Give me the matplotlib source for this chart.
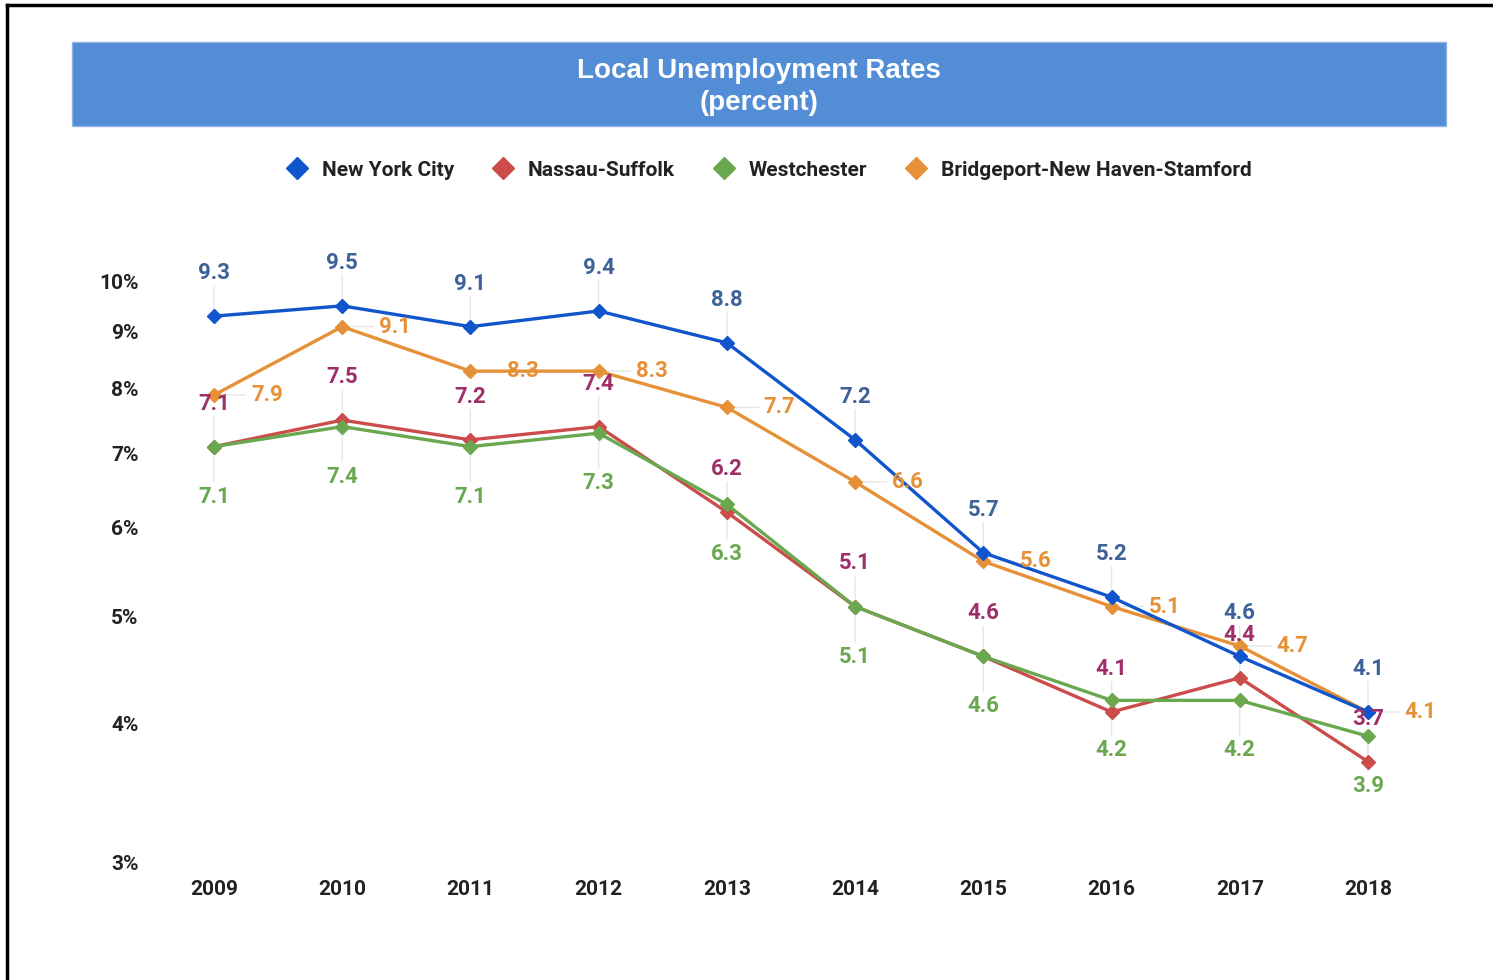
import matplotlib
matplotlib.use("Agg")
import matplotlib.pyplot as plt
from matplotlib.patches import Rectangle
from matplotlib.lines import Line2D
from matplotlib.ticker import FixedLocator, NullLocator, FixedFormatter

plt.rcParams['font.family'] = ['Roboto', 'DejaVu Sans']

years = [2009, 2010, 2011, 2012, 2013, 2014, 2015, 2016, 2017, 2018]
nyc = [9.3, 9.5, 9.1, 9.4, 8.8, 7.2, 5.7, 5.2, 4.6, 4.1]
nassau = [7.1, 7.5, 7.2, 7.4, 6.2, 5.1, 4.6, 4.1, 4.4, 3.7]
westchester = [7.1, 7.4, 7.1, 7.3, 6.3, 5.1, 4.6, 4.2, 4.2, 3.9]
bridgeport = [7.9, 9.1, 8.3, 8.3, 7.7, 6.6, 5.6, 5.1, 4.7, 4.1]
series_names = ["New York City", "Nassau-Suffolk", "Westchester", "Bridgeport-New Haven-Stamford"]
y_ticks = [3, 4, 5, 6, 7, 8, 9, 10]
y_tick_labels = ["3%", "4%", "5%", "6%", "7%", "8%", "9%", "10%"]

line_colors = ["#1155cc", "#cc4b4b", "#6aa84f", "#e69138"]
label_colors = ["#3d6199", "#9e2f68", "#6aa84f", "#e69138"]
# label offsets in points (dx, dy)
offsets = [(0, 31), (0, 31), (0, -36), (38, 0)]

fig = plt.figure(figsize=(14.93, 9.8), dpi=100)
ax = fig.add_axes([0.1004, 0.1194, 0.8588, 0.6408])
ax.set_yscale('log')
ax.set_ylim(3, 11)
ax.set_xlim(2008.5, 2018.5)

all_series = [nyc, nassau, westchester, bridgeport]
draw_order = [1, 2, 3, 0]
for i in draw_order:
    ax.plot(years, all_series[i], color=line_colors[i], lw=2.4, marker='D',
            markersize=7.5, zorder=3 + (i == 0))

for i, vals in enumerate(all_series):
    dx, dy = offsets[i]
    for x, v in zip(years, vals):
        # leader line
        if dx == 0:
            ax.annotate('', xy=(x, v), xytext=(0, dy * 0.7), textcoords='offset points',
                        arrowprops=dict(arrowstyle='-', color='#e6e6e6', lw=1.0, shrinkA=0, shrinkB=4),
                        zorder=1)
        else:
            ax.annotate('', xy=(x, v), xytext=(dx * 0.6, 0), textcoords='offset points',
                        arrowprops=dict(arrowstyle='-', color='#e6e6e6', lw=1.0, shrinkA=0, shrinkB=4),
                        zorder=1)
        ax.annotate(f"{v:.1f}", xy=(x, v), xytext=(dx, dy), textcoords='offset points',
                    ha='center', va='center', color=label_colors[i], fontsize=16,
                    fontweight='bold', zorder=6)

ax.yaxis.set_major_locator(FixedLocator(y_ticks))
ax.yaxis.set_major_formatter(FixedFormatter(y_tick_labels))
ax.yaxis.set_minor_locator(NullLocator())
ax.set_xticks(years)
ax.set_xticklabels([str(y) for y in years])
ax.tick_params(axis='both', length=0, labelsize=15, labelcolor='#222222')
ax.tick_params(axis='y', pad=8)
ax.tick_params(axis='x', pad=12)
for lab in ax.get_xticklabels() + ax.get_yticklabels():
    lab.set_fontweight('bold')
for s in ax.spines.values():
    s.set_visible(False)

# Title banner
fig.patches.append(Rectangle((72 / 1493, 1 - 126 / 980), (1446 - 72) / 1493, 84 / 980,
                             transform=fig.transFigure, facecolor='#538dd5',
                             edgecolor='#8fb4e3', lw=1, zorder=0))
fig.text(759 / 1493, 1 - 87 / 980, "Local Unemployment Rates\n(percent)", ha='center',
         va='center', color='white', fontsize=20, fontweight='bold', linespacing=1.3,
         family=['Liberation Sans', 'DejaVu Sans'])

# Legend
handles = [Line2D([], [], color=c, marker='D', linestyle='None', markersize=11) for c in line_colors]
leg = fig.legend(handles, series_names, loc='center', bbox_to_anchor=(769 / 1493, 1 - 170 / 980),
                 ncol=4, frameon=False, handlelength=1.0, handletextpad=0.7, columnspacing=1.85,
                 prop={'weight': 'bold', 'size': 15})
for t in leg.get_texts():
    t.set_color('#222222')

# Border lines (top and left)
fig.add_artist(Line2D([7 / 1493, 1], [1 - 5 / 980, 1 - 5 / 980], transform=fig.transFigure,
                      color='black', lw=2.5))
fig.add_artist(Line2D([7 / 1493, 7 / 1493], [0, 1 - 5 / 980], transform=fig.transFigure,
                      color='black', lw=2.5))

fig.savefig("out.png", dpi=100, facecolor='white')
